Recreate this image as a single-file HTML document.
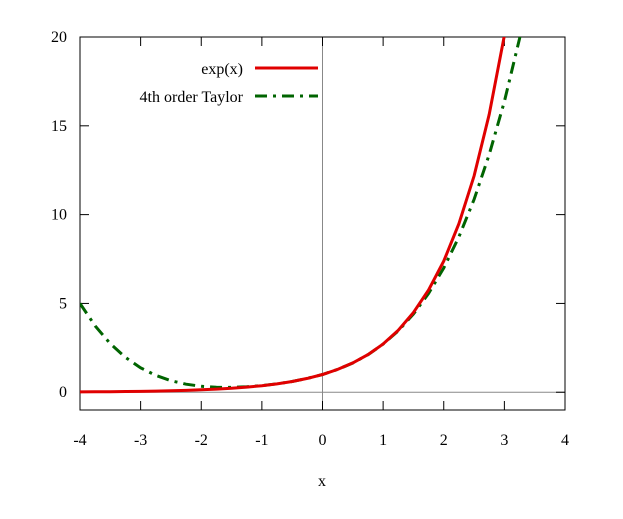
<!DOCTYPE html>
<html><head><meta charset="utf-8"><style>
body{margin:0;background:#fff}
svg text{font-family:"Liberation Serif",serif;font-size:16px;fill:#000}
</style></head><body>
<svg id="chart" width="623" height="514" viewBox="0 0 623 514">
<defs><clipPath id="clip"><rect x="80" y="37" width="485" height="373"/></clipPath></defs>
<g id="axes"></g>
<g id="series" clip-path="url(#clip)"></g>
<g id="legend"></g>
</svg>
<script>
const xs=[-4,-3.75,-3.5,-3.25,-3,-2.75,-2.5,-2.25,-2,-1.75,-1.5,-1.25,-1,-0.75,-0.5,-0.25,0,0.25,0.5,0.75,1,1.25,1.5,1.75,2,2.25,2.5,2.75,3,3.25,3.5];
const expVals=[0.018,0.024,0.030,0.039,0.050,0.064,0.082,0.105,0.135,0.174,0.223,0.287,0.368,0.472,0.607,0.779,1,1.284,1.649,2.117,2.718,3.490,4.482,5.755,7.389,9.488,12.18,15.64,20.09,25.79,33.12];
const taylorVals=[5.0,3.732,2.732,1.959,1.375,0.948,0.648,0.451,0.333,0.279,0.273,0.307,0.375,0.474,0.607,0.779,1,1.284,1.648,2.115,2.708,3.459,4.398,5.565,7.0,8.747,10.857,13.380,16.375,19.901,24.02];
const xTicks=[-4,-3,-2,-1,0,1,2,3,4];
const yTicks=[0,5,10,15,20];
const X0=80,X1=565,Y0=410,Y1=37,xmin=-4,xmax=4,ymin=-1,ymax=20;
const sx=v=>X0+(v-xmin)/(xmax-xmin)*(X1-X0);
const sy=v=>Y0-(v-ymin)/(ymax-ymin)*(Y0-Y1);
const NS="http://www.w3.org/2000/svg";
function mk(tag,attrs,parent){const e=document.createElementNS(NS,tag);for(const k in attrs)e.setAttribute(k,attrs[k]);parent.appendChild(e);return e;}
const axes=document.getElementById('axes'),series=document.getElementById('series'),legend=document.getElementById('legend');
// zero axes
let l=mk('line',{x1:X0,x2:X1,y1:sy(0),y2:sy(0),stroke:'#888','stroke-width':1},axes);


l=mk('line',{x1:sx(0),x2:sx(0),y1:Y0,y2:Y1,stroke:'#888','stroke-width':1},axes);


let fr=mk('rect',{x:X0,y:Y1,width:X1-X0,height:Y0-Y1,fill:'none',stroke:'#000','stroke-width':1},axes);


xTicks.forEach(v=>{const x=sx(v);
 mk('line',{x1:x,x2:x,y1:Y0,y2:Y0-9,stroke:'#000'},axes);
 mk('line',{x1:x,x2:x,y1:Y1,y2:Y1+9,stroke:'#000'},axes);
 const t=mk('text',{x:x,y:445,'text-anchor':'middle'},axes);t.textContent=v;
 
 
});
yTicks.forEach(v=>{const y=sy(v);
 mk('line',{x1:X0,x2:X0+9,y1:y,y2:y,stroke:'#000'},axes);
 mk('line',{x1:X1,x2:X1-9,y1:y,y2:y,stroke:'#000'},axes);
 const t=mk('text',{x:67,y:y+5,'text-anchor':'end'},axes);t.textContent=v;
 
 
});
let xt=mk('text',{x:322,y:486,'text-anchor':'middle'},axes);xt.textContent='x';


function path(vals){return xs.map((x,i)=>(i?'L':'M')+sx(x).toFixed(1)+','+sy(vals[i]).toFixed(1)).join('');}
let p=mk('path',{d:path(taylorVals),fill:'none',stroke:'#006400','stroke-width':3,'stroke-dasharray':'12,6,3,6'},series);


p=mk('path',{d:path(expVals),fill:'none',stroke:'#e00000','stroke-width':3},series);


let t=mk('text',{x:243,y:74,'text-anchor':'end'},legend);t.textContent='exp(x)';


l=mk('line',{x1:255,x2:318,y1:68,y2:68,stroke:'#e00000','stroke-width':3},legend);


t=mk('text',{x:243,y:102,'text-anchor':'end'},legend);t.textContent='4th order Taylor';


l=mk('line',{x1:255,x2:318,y1:96,y2:96,stroke:'#006400','stroke-width':3,'stroke-dasharray':'12,6,3,6'},legend);


</script>
</body></html>
